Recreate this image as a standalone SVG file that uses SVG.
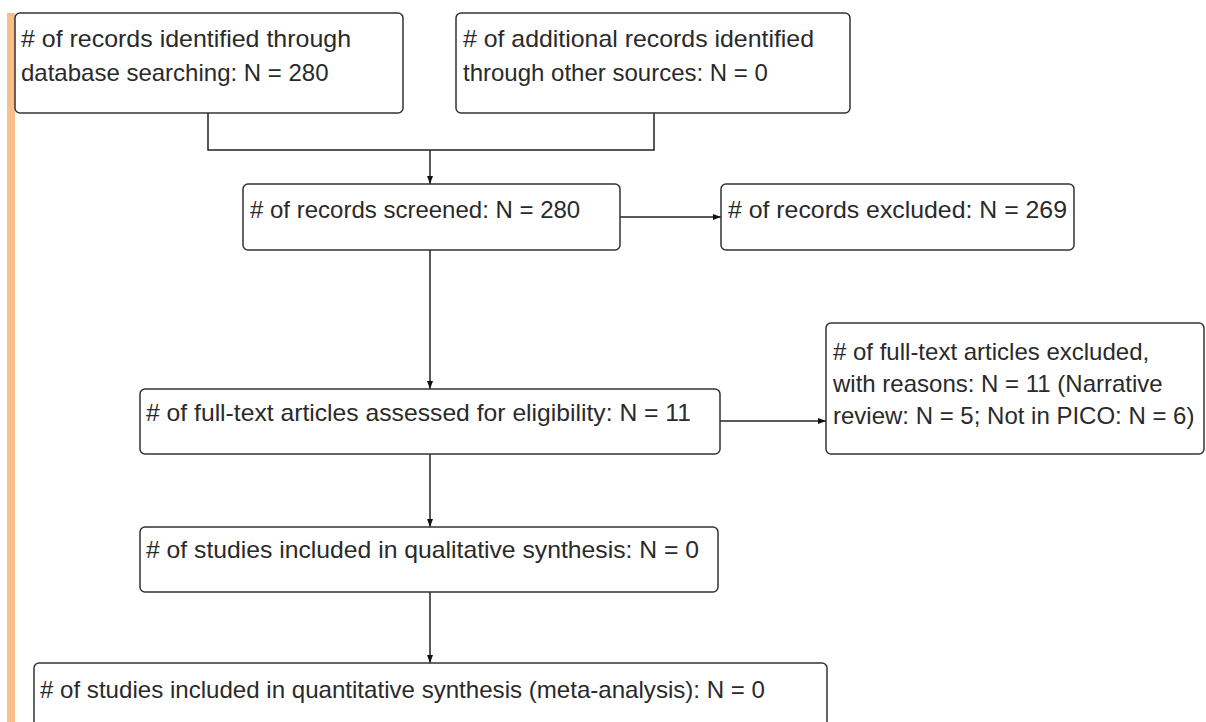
<svg xmlns="http://www.w3.org/2000/svg" width="1206" height="722" viewBox="0 0 1206 722">
<style>
.box{fill:#fff;stroke:#333;stroke-width:1.5}
.t{font-family:"Liberation Sans",Arial,sans-serif;font-size:24px;fill:#2a2a2a}
.c{fill:none;stroke:#222;stroke-width:1.5}
</style>
<defs>
<marker id="ah" viewBox="0 0 8 8" refX="8" refY="4" markerWidth="8" markerHeight="8" markerUnits="userSpaceOnUse" orient="auto">
<path d="M0,1 L8,4 L0,7 Z" fill="#111"/>
</marker>
</defs>
<rect x="0" y="0" width="1206" height="722" fill="#fff"/>
<rect x="7" y="13" width="8" height="709" fill="#F8BF8B"/>
<g id="connectors">
<path class="c" d="M208,113 V150 H654 V113"/>
<path class="c" d="M430,150 V184" marker-end="url(#ah)"/>
<path class="c" d="M620,217 H721" marker-end="url(#ah)"/>
<path class="c" d="M430,250 V389" marker-end="url(#ah)"/>
<path class="c" d="M720,421 H826" marker-end="url(#ah)"/>
<path class="c" d="M430,454 V527" marker-end="url(#ah)"/>
<path class="c" d="M430,592 V663" marker-end="url(#ah)"/>
</g>
<g id="n1">
<rect class="box" x="15" y="13" width="388" height="100" rx="5"/>
<text class="t">
<tspan x="21" y="47" textLength="330" lengthAdjust="spacingAndGlyphs"># of records identified through</tspan>
<tspan x="21" y="81">database searching: N = 280</tspan>
</text>
</g>
<g id="n2">
<rect class="box" x="456" y="13" width="394" height="100" rx="5"/>
<text class="t">
<tspan x="463" y="47" textLength="351" lengthAdjust="spacingAndGlyphs"># of additional records identified</tspan>
<tspan x="463" y="81">through other sources: N = 0</tspan>
</text>
</g>
<g id="n3">
<rect class="box" x="243" y="184" width="377" height="66" rx="5"/>
<text class="t" x="250" y="218"># of records screened: N = 280</text>
</g>
<g id="n4">
<rect class="box" x="721" y="184" width="353" height="66" rx="5"/>
<text class="t" x="728" y="218" textLength="339" lengthAdjust="spacingAndGlyphs"># of records excluded: N = 269</text>
</g>
<g id="n5">
<rect class="box" x="140" y="389" width="580" height="65" rx="5"/>
<text class="t" x="146" y="421" textLength="545" lengthAdjust="spacingAndGlyphs"># of full-text articles assessed for eligibility: N = 11</text>
</g>
<g id="n6">
<rect class="box" x="826" y="323" width="378" height="131" rx="5"/>
<text class="t">
<tspan x="833" y="360"># of full-text articles excluded,</tspan>
<tspan x="833" y="392">with reasons: N = 11 (Narrative</tspan>
<tspan x="833" y="424">review: N = 5; Not in PICO: N = 6)</tspan>
</text>
</g>
<g id="n7">
<rect class="box" x="140" y="527" width="578" height="65" rx="5"/>
<text class="t" x="146" y="558" textLength="553" lengthAdjust="spacingAndGlyphs"># of studies included in qualitative synthesis: N = 0</text>
</g>
<g id="n8">
<rect class="box" x="34" y="663" width="793" height="80" rx="5"/>
<text class="t" x="40" y="698" textLength="725" lengthAdjust="spacingAndGlyphs"># of studies included in quantitative synthesis (meta-analysis): N = 0</text>
</g>
</svg>
